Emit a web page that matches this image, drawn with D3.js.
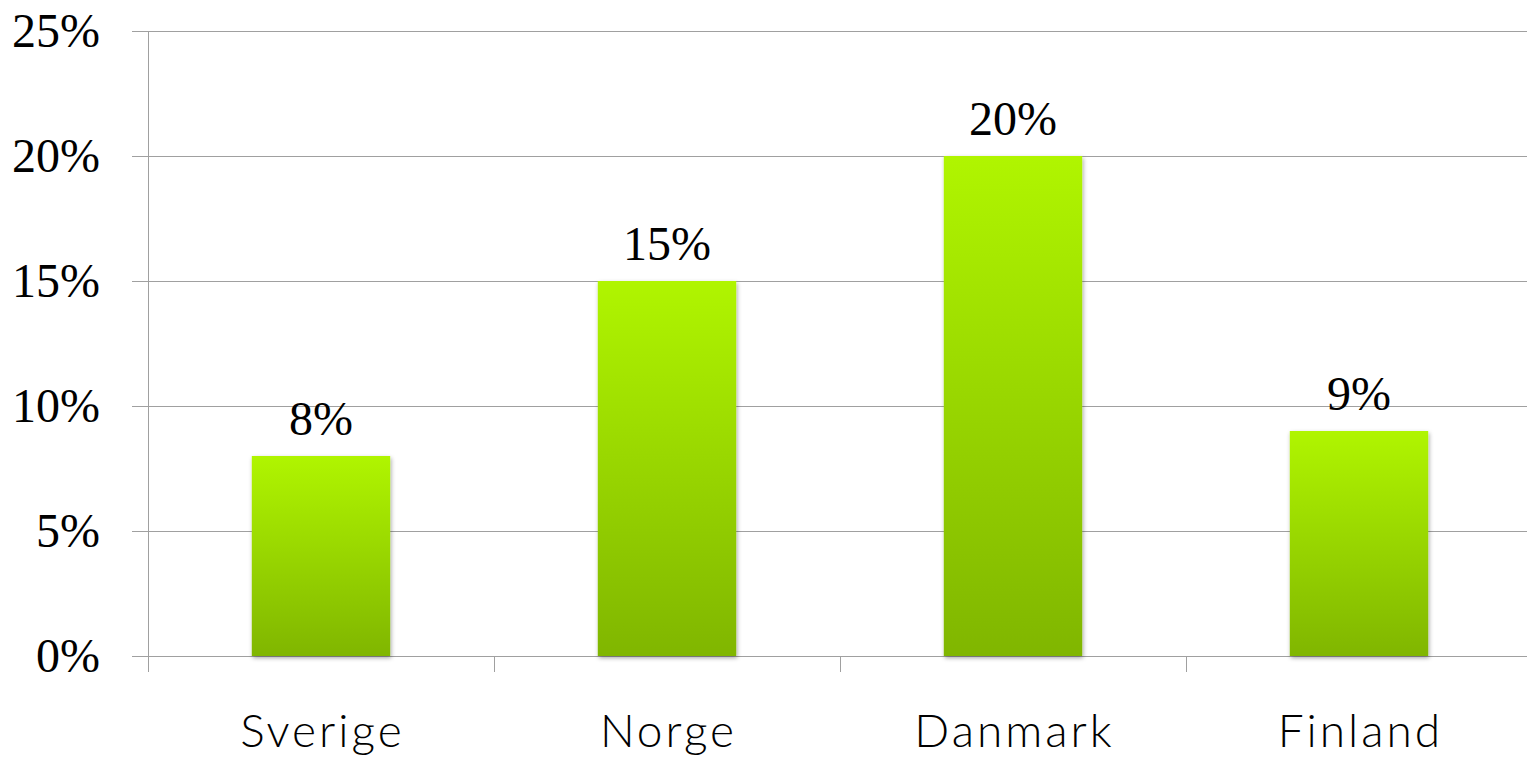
<!DOCTYPE html>
<html><head><meta charset="utf-8">
<script src="https://cdn.jsdelivr.net/npm/d3@7"></script>
<style>html,body{margin:0;padding:0;background:#fff;}svg{display:block;}</style>
</head><body>
<svg id="chart" width="1527" height="758"></svg>
<script>
const categories = ["Sverige", "Norge", "Danmark", "Finland"];
const values = [8, 15, 20, 9];
const valueLabels = ["8%", "15%", "20%", "9%"];
const yTicks = [0, 5, 10, 15, 20, 25];
const yTickLabels = ["0%", "5%", "10%", "15%", "20%", "25%"];

(function () {
const svg = d3.select("#chart");
const mLeft = 148, mRight = 1532, mTop = 31, mBottom = 656;

const x = d3.scaleBand().domain(categories).range([mLeft, mRight]).paddingInner(0.6).paddingOuter(0.3);
const y = d3.scaleLinear().domain([0, 25]).range([mBottom, mTop]);

const defs = svg.append("defs");
const grad = defs.append("linearGradient").attr("id", "barGrad").attr("x1", 0).attr("y1", 0).attr("x2", 0).attr("y2", 1);
grad.append("stop").attr("offset", "0%").attr("stop-color", "#b0f500");
grad.append("stop").attr("offset", "100%").attr("stop-color", "#80b600");
const f = defs.append("filter").attr("id", "shadow").attr("x", "-10%").attr("y", "-10%").attr("width", "130%").attr("height", "130%");
f.append("feDropShadow").attr("dx", 1).attr("dy", 2).attr("stdDeviation", 2).attr("flood-color", "#000").attr("flood-opacity", 0.35);

// gridlines
svg.append("g").selectAll("line").data(yTicks).join("line")
  .attr("x1", mLeft - 16).attr("x2", mRight)
  .attr("y1", d => Math.round(y(d)) + 0.5).attr("y2", d => Math.round(y(d)) + 0.5)
  .attr("stroke", "#a0a0a0").attr("stroke-width", 1);

// left axis line
svg.append("line").attr("x1", mLeft + 0.5).attr("x2", mLeft + 0.5).attr("y1", mTop).attr("y2", mBottom + 16)
  .attr("stroke", "#a0a0a0");

// bottom ticks at band boundaries
const boundaries = categories.map(c => x(c) - x.step() * 0.3).concat([mRight]);
svg.append("g").selectAll("line").data(boundaries).join("line")
  .attr("x1", d => Math.round(d) + 0.5).attr("x2", d => Math.round(d) + 0.5)
  .attr("y1", mBottom).attr("y2", mBottom + 16)
  .attr("stroke", "#a0a0a0");

// y tick labels
svg.append("g").selectAll("text").data(yTicks).join("text")
  .attr("x", mLeft - 48).attr("y", d => y(d))
  .attr("dy", "0.33em")
  .attr("text-anchor", "end")
  .attr("font-family", "'Liberation Serif', serif").attr("font-size", 48).attr("fill", "#000")
  .text((d, i) => yTickLabels[i]);

// bars
svg.append("g").selectAll("rect").data(values).join("rect")
  .attr("x", (d, i) => x(categories[i]))
  .attr("width", x.bandwidth())
  .attr("y", d => y(d))
  .attr("height", d => y(0) - y(d))
  .attr("fill", "url(#barGrad)")
  .attr("filter", "url(#shadow)");

// value labels
svg.append("g").selectAll("text").data(values).join("text")
  .attr("x", (d, i) => x(categories[i]) + x.bandwidth() / 2)
  .attr("y", d => y(d) - 21)
  .attr("text-anchor", "middle")
  .attr("font-family", "'Liberation Serif', serif").attr("font-size", 48).attr("fill", "#000")
  .text((d, i) => valueLabels[i]);

// category labels
svg.append("g").selectAll("text").data(categories).join("text")
  .attr("x", d => x(d) + x.bandwidth() / 2 + 1.5)
  .attr("y", 747)
  .attr("text-anchor", "middle")
  .attr("font-family", "Lato, sans-serif").attr("font-weight", 300).attr("font-size", 46)
  .attr("letter-spacing", 3).attr("fill", "#000")
  .text(d => d);
})();
</script>
</body></html>
